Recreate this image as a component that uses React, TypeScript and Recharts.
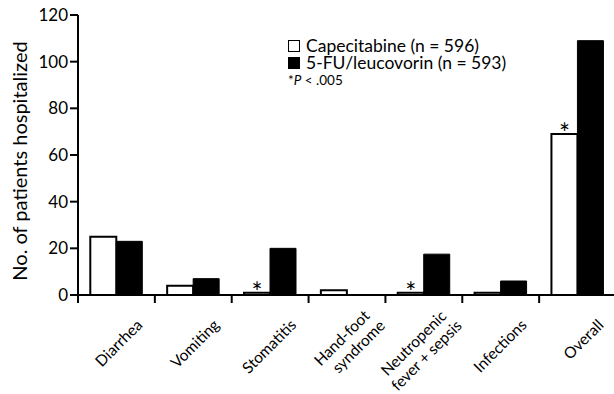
import { BarChart, Bar, XAxis, YAxis, LabelList } from "recharts"

const categories = [
  "Diarrhea",
  "Vomiting",
  "Stomatitis",
  "Hand-foot\nsyndrome",
  "Neutropenic\nfever + sepsis",
  "Infections",
  "Overall",
]
const capecitabine = [25, 4, 1, 2, 1, 1, 69]
const fuLeucovorin = [23, 7, 20, 0, 17.5, 6, 109]
const significant = [false, false, true, false, true, false, true]
const yTicks = [0, 20, 40, 60, 80, 100, 120]

const data = categories.map((name, i) => ({
  name,
  cape: capecitabine[i],
  fu: fuLeucovorin[i],
  star: significant[i] ? "*" : "",
}))

const FONT = "Lato, 'Open Sans', sans-serif"

function CategoryTick(props: any) {
  const { x, y, payload } = props
  const half = payload && typeof payload.offset === "number" ? payload.offset : 38.4
  const lines = String(payload.value).split("\n")
  const ax = x + 27
  const ay = y + 31
  const two = lines.length > 1
  return (
    <g>
      <line x1={x - half} x2={x - half} y1={y} y2={y + 8} stroke="#000" strokeWidth={2} />
      <text
        x={ax}
        y={ay}
        transform={`rotate(-45 ${ax} ${ay})`}
        textAnchor="end"
        fontSize={15.5}
        fontFamily={FONT}
        fill="#000"
      >
        {lines.map((l, i) => (
          <tspan
            key={i}
            x={ax + (two ? (i === 0 ? 4 : 8) : 0)}
            dy={two ? (i === 0 ? "-0.57em" : "1.15em") : 0}
          >
            {l}
          </tspan>
        ))}
      </text>
    </g>
  )
}

function YLabel(props: any) {
  const vb = props.viewBox || { x: 0, y: 15, height: 280 }
  const cx = 27
  const cy = vb.y + vb.height / 2 + 6
  return (
    <text
      x={cx}
      y={cy}
      transform={`rotate(-90 ${cx} ${cy})`}
      textAnchor="middle"
      fontSize={20}
      fontFamily={FONT}
      fill="#000"
    >
      No. of patients hospitalized
    </text>
  )
}

function Star(props: any) {
  const { x, y, width, value } = props
  if (!value) return null
  return (
    <text x={x + width / 2} y={y + 9} textAnchor="middle" fontSize={26} fontFamily={FONT} fill="#000">
      {value}
    </text>
  )
}

function LegendBox() {
  const row = { display: "flex", alignItems: "center", height: 17 } as const
  const box = (fill: string) => ({
    width: 10,
    height: 10,
    border: "1.5px solid #000",
    background: fill,
    marginRight: 6,
    flexShrink: 0,
  })
  return (
    <div
      style={{
        position: "absolute",
        left: 288,
        top: 37,
        fontFamily: FONT,
        color: "#000",
        fontSize: 17.5,
        lineHeight: "17px",
        whiteSpace: "nowrap",
      }}
    >
      <div style={row}>
        <div style={box("#fff")} />
        <span>Capecitabine (n = 596)</span>
      </div>
      <div style={row}>
        <div style={box("#000")} />
        <span>5-FU/leucovorin (n = 593)</span>
      </div>
      <div style={{ fontSize: 13.5, marginTop: 1 }}>
        *<i>P</i> &lt; .005
      </div>
    </div>
  )
}

export default function App() {
  return (
    <div style={{ position: "absolute", left: 0, top: 0, width: 614, height: 394, background: "#fff" }}>
      <BarChart
        width={614}
        height={394}
        data={data}
        margin={{ top: 15, right: -2, bottom: 0, left: 0 }}
        barCategoryGap="16%"
        barGap={0}
      >
        <XAxis
          dataKey="name"
          interval={0}
          height={99}
          axisLine={{ stroke: "#000", strokeWidth: 2 }}
          tickLine={false}
          tickSize={0}
          tickMargin={0}
          tick={<CategoryTick />}
        />
        <YAxis
          width={78}
          domain={[0, 120]}
          ticks={yTicks}
          interval={0}
          axisLine={{ stroke: "#000", strokeWidth: 2 }}
          tickLine={{ stroke: "#000", strokeWidth: 2 }}
          tickSize={8}
          tickMargin={2}
          tick={{ fill: "#000", fontSize: 17, fontFamily: FONT }}
          label={<YLabel />}
        />
        <Bar dataKey="cape" fill="#fff" stroke="#000" strokeWidth={2} isAnimationActive={false}>
          <LabelList dataKey="star" content={<Star />} />
        </Bar>
        <Bar dataKey="fu" fill="#000" stroke="#000" strokeWidth={1} isAnimationActive={false} />
      </BarChart>
      <LegendBox />
    </div>
  )
}
